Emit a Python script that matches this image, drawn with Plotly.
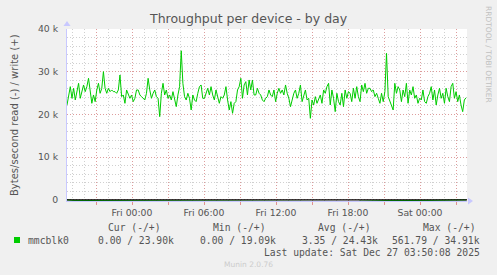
import pandas as pd
import plotly.graph_objects as go

# ---------------- data ----------------
title = "Throughput per device - by day"
y_title = "Bytes/second read (-) / write (+)"
start_time = "2025-12-25 18:35"
end_time = "2025-12-27 03:50"

write_k = [
    22.22, 24.17, 26.51, 23.78, 26.12, 23.39, 25.73, 27.29, 23.78, 25.73,
    26.90, 25.34, 26.51, 28.46, 24.95, 22.61, 24.56, 23.00, 25.73, 27.29,
    24.95, 26.12, 30.02, 26.12, 24.95, 26.12, 25.34, 25.73, 25.34, 25.34,
    24.95, 25.73, 29.24, 24.17, 24.56, 22.61, 25.73, 24.56, 23.78, 24.56,
    23.00, 23.78, 25.73, 25.73, 24.56, 24.17, 23.78, 23.39, 24.95, 28.46,
    25.73, 23.78, 24.95, 25.73, 24.17, 23.78, 19.49, 24.95, 27.29,
    24.56, 25.73, 23.78, 24.56, 23.39, 25.34, 23.78, 21.83, 24.56, 26.51,
    34.91, 27.29, 24.17, 23.39, 24.95, 23.78, 21.05, 24.56, 23.39, 23.00,
    24.95, 26.51, 26.90, 23.78, 23.78, 24.95, 26.12, 24.56, 26.51, 24.56,
    23.39, 25.73, 23.78, 22.61, 24.17, 23.78, 24.56, 26.51, 23.39, 21.05,
    23.00, 20.27, 22.61, 23.00, 25.73, 26.51, 28.46, 23.78, 26.90, 27.68,
    24.56, 28.07, 25.73, 28.07, 24.56, 24.56, 26.12, 24.95, 24.56, 23.39,
    23.00, 23.78, 24.17,
    25.73, 24.56, 24.17, 25.73, 23.00, 24.95, 26.12, 24.95, 25.73, 24.56,
    26.90, 24.95, 23.78, 21.83, 23.39, 24.95, 25.73, 23.78, 24.95, 26.90,
    23.00, 24.56, 25.73, 23.39, 23.78, 19.10, 23.39, 22.22, 24.17, 22.61,
    23.78, 24.56, 22.61, 25.73, 24.95, 26.51, 27.29, 22.22, 25.73, 23.78,
    20.66, 24.95, 23.00, 22.22, 24.95, 21.83, 25.73, 23.78, 25.34, 24.95,
    23.00, 26.12, 23.78, 26.51, 24.17, 23.00, 26.90, 25.34, 27.29, 24.95,
    26.12,
    26.12, 25.34, 25.73, 24.17, 24.95, 23.78, 22.61, 24.95, 23.00, 25.34,
    34.30, 24.17, 23.00, 21.83, 21.05, 27.29, 24.95, 26.51, 25.73, 23.00,
    25.73, 24.17, 27.29, 22.61, 25.73, 24.56, 26.51, 23.78, 24.56, 22.61,
    23.78, 23.39, 25.73, 23.00, 22.61, 24.17, 24.95, 26.51, 23.39, 25.73,
    22.22, 24.56, 26.12, 23.78, 24.95, 22.61, 26.12, 24.17, 23.00, 26.51,
    27.29, 23.78, 25.34, 23.00, 24.56, 22.22, 20.66, 23.39, 23.90,
]

read_times = ["2025-12-25 18:35", "2025-12-25 19:10", "2025-12-26 18:45",
              "2025-12-26 18:50", "2025-12-26 18:55", "2025-12-26 21:10",
              "2025-12-27 00:40", "2025-12-27 03:50"]
read_vals = [0.0, -120.0, -380.0, -561.79, -300.0, -150.0, -120.0, 0.0]

tick_times = ["2025-12-25 21:00", "2025-12-26 00:00", "2025-12-26 03:00",
              "2025-12-26 06:00", "2025-12-26 09:00", "2025-12-26 12:00",
              "2025-12-26 15:00", "2025-12-26 18:00", "2025-12-26 21:00",
              "2025-12-27 00:00", "2025-12-27 03:00"]
tick_labels = ["", "Fri 00:00", "", "Fri 06:00", "", "Fri 12:00", "",
               "Fri 18:00", "", "Sat 00:00", ""]

y_tickvals = [0, 10000, 20000, 30000, 40000]
y_ticktext = ["0", "10 k", "20 k", "30 k", "40 k"]

series_name = "mmcblk0"
legend_headers = ["Cur (-/+)", "Min (-/+)", "Avg (-/+)", "Max (-/+)"]
legend_values = ["0.00 / 23.90k", "0.00 / 19.09k", "3.35 / 24.43k", "561.79 / 34.91k"]
last_update = "Last update: Sat Dec 27 03:50:08 2025"
footer = "Munin 2.0.76"
side_text = "RRDTOOL / TOBI OETIKER"

# ---------------- figure ----------------
times = pd.date_range(start_time, end_time, periods=len(write_k))
write_vals = [v * 1000 for v in write_k]

GREEN = "#00CC00"
W, H = 497, 275
L, R, T, B = 67, 30, 29, 74
PW, PH = W - L - R, H - T - B


def px(x):
    return (x - L) / PW


def py(y):
    return (H - B - y) / PH


fig = go.Figure()
fig.add_trace(go.Scatter(x=pd.to_datetime(read_times), y=read_vals, mode="lines",
                         line=dict(color=GREEN, width=1), hoverinfo="skip",
                         showlegend=False))
fig.add_trace(go.Scatter(x=times, y=write_vals, mode="lines",
                         line=dict(color=GREEN, width=1), showlegend=False))

grid_major = "rgba(225,140,140,0.75)"
grid_minor = "rgba(170,170,170,0.55)"
DOT = "1px,2px"
tick_font = dict(family="DejaVu Sans", size=9.3, color="#555555")

fig.update_layout(
    width=W, height=H,
    margin=dict(l=L, r=R, t=T, b=B, pad=0),
    paper_bgcolor="#F0F0F0", plot_bgcolor="#FFFFFF",
    showlegend=False,
    xaxis=dict(
        type="date",
        range=[pd.Timestamp("2025-12-25 18:35"), pd.Timestamp("2025-12-27 03:55")],
        tickmode="array", tickvals=pd.to_datetime(tick_times), ticktext=tick_labels,
        tickfont=tick_font, ticks="outside", ticklen=3, tickcolor="#e09090",
        showgrid=True, gridcolor=grid_major, griddash=DOT, gridwidth=1,
        minor=dict(dtick=3600000, tick0="2025-12-26 00:00", showgrid=True,
                   gridcolor=grid_minor, griddash=DOT, gridwidth=1,
                   ticks=""),
        showline=True, linecolor="#c8c8ff", linewidth=1,
        zeroline=False, fixedrange=True,
    ),
    yaxis=dict(
        range=[-250, 40000],
        tickmode="array", tickvals=y_tickvals, ticktext=y_ticktext,
        tickfont=tick_font, ticks="", ticklabelstandoff=6,
        showgrid=True, gridcolor=grid_major, griddash=DOT, gridwidth=1,
        minor=dict(dtick=2000, tick0=0, showgrid=True, gridcolor=grid_minor,
                   griddash=DOT, gridwidth=1, ticks=""),
        showline=True, linecolor="#c8c8ff", linewidth=1,
        zeroline=False,
    ),
)

# zero rule
fig.add_shape(type="line", xref="paper", yref="y", x0=0, x1=1, y0=0, y1=0,
              line=dict(color="#000000", width=1.3), layer="above")
# axis arrows
fig.add_shape(type="path", xref="paper", yref="paper",
              path=f"M {px(63.5)} {py(26)} L {px(70.5)} {py(26)} L {px(67)} {py(21)} Z",
              fillcolor="#c8c8ff", line=dict(width=0))
fig.add_shape(type="path", xref="paper", yref="paper",
              path=f"M {px(468)} {py(197.5)} L {px(468)} {py(204.5)} L {px(473)} {py(201)} Z",
              fillcolor="#c8c8ff", line=dict(width=0))

ann = []
ann.append(dict(text=title, x=px(248), y=py(18), xanchor="center", yanchor="middle",
                font=dict(family="DejaVu Sans", size=12.5, color="#555555")))
ann.append(dict(text=y_title, x=px(14), y=py(115), xanchor="center", yanchor="middle",
                textangle=-90, font=dict(family="DejaVu Sans", size=10, color="#555555")))
mono = dict(family="DejaVu Sans Mono", size=9.7, color="#555555")
header_centers = [134, 239, 344.5, 449]
for h, cx in zip(legend_headers, header_centers):
    ann.append(dict(text=h, x=px(cx), y=py(227), xanchor="center", yanchor="middle", font=mono))
value_rights = [176, 278, 380, 482]
for v, rx in zip(legend_values, value_rights):
    ann.append(dict(text=v, x=px(rx), y=py(240), xanchor="right", yanchor="middle", font=mono))
ann.append(dict(text=series_name, x=px(26), y=py(240), xanchor="left", yanchor="middle", font=mono))
ann.append(dict(text=last_update, x=px(482), y=py(252), xanchor="right", yanchor="middle", font=mono))
ann.append(dict(text=footer, x=px(248), y=py(264), xanchor="center", yanchor="middle",
                font=dict(family="DejaVu Sans", size=7.5, color="#cccccc")))
ann.append(dict(text=side_text, x=px(489), y=py(54), xanchor="center", yanchor="middle",
                textangle=90, font=dict(family="DejaVu Sans", size=7.5, color="#c0c0c0")))
for a in ann:
    a.update(xref="paper", yref="paper", showarrow=False)
fig.update_layout(annotations=ann)

# legend colour square
fig.add_shape(type="rect", xref="paper", yref="paper",
              x0=px(14), x1=px(20), y0=py(243), y1=py(237),
              fillcolor=GREEN, line=dict(width=0))

fig.write_html("out.html")
